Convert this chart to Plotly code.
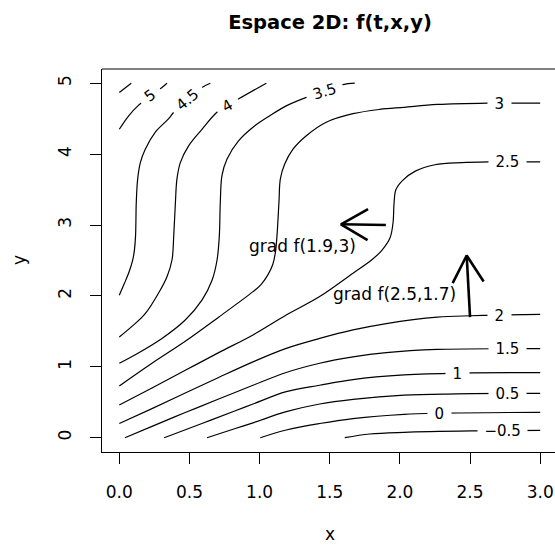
import math
import plotly.graph_objects as go

# ---------------- data ----------------
# contour levels and the (x, y) points of each contour line
lev_m05_x = [1.607, 1.785, 2.03, 2.54, 2.73, 3.0]
lev_m05_y = [0.0, 0.052, 0.076, 0.096, 0.100, 0.104]
lev_0_x = [1.005, 1.19, 1.428, 1.666, 2.03, 2.284, 3.0]
lev_0_y = [0.0, 0.109, 0.20, 0.27, 0.33, 0.346, 0.358]
lev_05_x = [0.625, 0.827, 0.953, 1.19, 1.428, 1.666, 2.03, 2.4, 2.766, 3.0]
lev_05_y = [0.0, 0.13, 0.21, 0.367, 0.475, 0.54, 0.60, 0.618, 0.626, 0.626]
lev_1_x = [0.32, 0.589, 0.827, 0.953, 1.19, 1.428, 1.666, 2.03, 2.409, 3.0]
lev_1_y = [0.0, 0.20, 0.38, 0.475, 0.65, 0.74, 0.82, 0.885, 0.912, 0.917]
lev_15_x = [0.04, 0.233, 0.47, 0.708, 0.953, 1.19, 1.428, 1.666, 1.903, 2.267, 2.766, 3.0]
lev_15_y = [0.0, 0.16, 0.355, 0.545, 0.74, 0.92, 1.05, 1.14, 1.20, 1.245, 1.255, 1.255]
lev_2_x = [0.0, 0.233, 0.47, 0.708, 0.953, 1.19, 1.428, 1.666, 1.903, 2.267, 2.505, 2.711, 3.0]
lev_2_y = [0.20, 0.41, 0.63, 0.85, 1.07, 1.26, 1.40, 1.52, 1.61, 1.70, 1.72, 1.73, 1.74]
lev_25_x = [0.0, 0.233, 0.47, 0.708, 0.953, 1.19, 1.428, 1.666, 1.80, 1.87, 1.93, 1.952,
            1.958, 1.972, 2.02, 2.11, 2.25, 2.44, 2.63, 2.766, 3.0]
lev_25_y = [0.46, 0.70, 0.95, 1.20, 1.45, 1.73, 1.99, 2.32, 2.51, 2.64, 2.82, 3.05,
            3.30, 3.50, 3.63, 3.76, 3.85, 3.88, 3.89, 3.89, 3.89]
lev_3_x = [0.0, 0.233, 0.47, 0.708, 0.953, 1.01, 1.06, 1.095, 1.113, 1.124, 1.138, 1.148,
           1.179, 1.238, 1.333, 1.475, 1.666, 1.856, 2.03, 2.267, 2.623, 2.711, 3.0]
lev_3_y = [0.73, 1.05, 1.36, 1.70, 2.06, 2.16, 2.30, 2.45, 2.62, 2.85, 3.32, 3.65,
           3.86, 4.07, 4.26, 4.45, 4.57, 4.63, 4.66, 4.70, 4.72, 4.72, 4.72]
lev_35_x = [0.0, 0.114, 0.304, 0.47, 0.589, 0.661, 0.697, 0.713, 0.72, 0.732, 0.768, 0.851,
            0.953, 1.072, 1.19, 1.333, 1.465, 1.594, 1.678]
lev_35_y = [1.05, 1.17, 1.40, 1.66, 1.94, 2.22, 2.51, 2.85, 3.32, 3.70, 3.93, 4.19,
            4.38, 4.54, 4.68, 4.80, 4.89, 4.98, 5.0]
lev_4_x = [0.0, 0.09, 0.185, 0.28, 0.34, 0.376, 0.388, 0.40, 0.411, 0.435, 0.495, 0.589,
           0.696, 0.774, 0.851, 1.048]
lev_4_y = [1.42, 1.57, 1.75, 2.04, 2.27, 2.51, 2.85, 3.32, 3.65, 3.88, 4.12, 4.35,
           4.59, 4.69, 4.78, 5.0]
lev_45_x = [0.0, 0.035, 0.07, 0.095, 0.108, 0.116, 0.121, 0.131, 0.15, 0.185, 0.257, 0.352,
            0.388, 0.488, 0.589, 0.649]
lev_45_y = [2.01, 2.17, 2.34, 2.50, 2.65, 2.85, 3.32, 3.65, 3.88, 4.07, 4.31, 4.50,
            4.59, 4.77, 4.94, 5.0]
lev_5_x = [0.0, 0.067, 0.138, 0.221, 0.304, 0.34]
lev_5_y = [4.35, 4.54, 4.69, 4.82, 4.94, 5.0]
lev_55_x = [0.0, 0.085]
lev_55_y = [4.87, 5.0]

# contour labels: text, position on the line, orientation
label_text = ["5", "4.5", "4", "3.5", "3", "2.5", "2", "1.5", "1", "0.5", "0", "\u22120.5"]
label_x = [0.221, 0.488, 0.774, 1.465, 2.711, 2.766, 2.711, 2.766, 2.409, 2.766, 2.284, 2.73]
label_y = [4.82, 4.77, 4.69, 4.89, 4.72, 3.89, 1.73, 1.255, 0.912, 0.626, 0.346, 0.10]
label_angle = [-37, -40, -30, -17, 0, 0, 0, 0, 0, 0, 0, 0]

# gradient arrows
grad_x0 = [1.9, 2.5]
grad_y0 = [3.0, 1.7]
grad_dx = [-0.32, -0.024]
grad_dy = [0.01, 0.87]
grad_text = ["grad f(1.9,3)", "grad f(2.5,1.7)"]
grad_text_x = [1.306, 1.963]
grad_text_y = [2.70, 2.024]

x_ticks = [0.0, 0.5, 1.0, 1.5, 2.0, 2.5, 3.0]
y_ticks = [0, 1, 2, 3, 4, 5]

# ---------------- geometry ----------------
W, H = 555, 546
ML, MR, MT, MB = 102, 0, 69, 94
PW, PH = W - ML - MR, H - MT - MB
X_RANGE = [-0.1233, 3.1055]
Y_RANGE = [-0.2017, 5.2003]
SX = PW / (X_RANGE[1] - X_RANGE[0])
SY = PH / (Y_RANGE[1] - Y_RANGE[0])

FONT = "DejaVu Sans"

contours = [
    (lev_m05_x, lev_m05_y), (lev_0_x, lev_0_y), (lev_05_x, lev_05_y), (lev_1_x, lev_1_y),
    (lev_15_x, lev_15_y), (lev_2_x, lev_2_y), (lev_25_x, lev_25_y), (lev_3_x, lev_3_y),
    (lev_35_x, lev_35_y), (lev_4_x, lev_4_y), (lev_45_x, lev_45_y), (lev_5_x, lev_5_y),
    (lev_55_x, lev_55_y),
]

fig = go.Figure()
for cx, cy in contours:
    fig.add_trace(go.Scatter(x=cx, y=cy, mode="lines",
                             line=dict(color="black", width=1.2, shape="spline", smoothing=1.0),
                             hoverinfo="skip"))

# arrows (shaft + open head, R style: 30 degrees)
HEAD_PX = 31
for x0, y0, dx, dy in zip(grad_x0, grad_y0, grad_dx, grad_dy):
    x1, y1 = x0 + dx, y0 + dy
    vx, vy = dx * SX, -dy * SY
    n = math.hypot(vx, vy)
    bx, by = -vx / n, -vy / n
    heads = []
    for a in (math.radians(30), math.radians(-30)):
        rx = bx * math.cos(a) - by * math.sin(a)
        ry = bx * math.sin(a) + by * math.cos(a)
        heads.append((x1 + rx * HEAD_PX / SX, y1 - ry * HEAD_PX / SY))
    fig.add_trace(go.Scatter(x=[x0, x1], y=[y0, y1], mode="lines",
                             line=dict(color="black", width=2.6), hoverinfo="skip"))
    fig.add_trace(go.Scatter(x=[heads[0][0], x1, heads[1][0]], y=[heads[0][1], y1, heads[1][1]],
                             mode="lines", line=dict(color="black", width=2.6), hoverinfo="skip"))

annotations = []
CW = {"0": .636, "1": .636, "2": .636, "3": .636, "4": .636, "5": .636, ".": .318, "\u2212": .838}
LAB_SIZE = 15
for t, lx, ly, ang in zip(label_text, label_x, label_y, label_angle):
    adv = sum(CW.get(c, .636) for c in t) * LAB_SIZE
    annotations.append(dict(x=lx, y=ly, xref="x", yref="y", text=t, showarrow=False,
                            textangle=ang, xanchor="center", yanchor="middle",
                            font=dict(family=FONT, size=LAB_SIZE, color="black"),
                            bgcolor="white", borderpad=0, width=adv + 13, height=15))

for t, tx, ty in zip(grad_text, grad_text_x, grad_text_y):
    annotations.append(dict(x=tx, y=ty, xref="x", yref="y", text=t, showarrow=False,
                            xanchor="center", yanchor="middle",
                            font=dict(family=FONT, size=17, color="black")))

def paper_x(px):
    return (px - ML) / PW

def paper_y(py):
    return (H - MB - py) / PH

annotations.append(dict(x=paper_x(330), y=paper_y(546), xref="paper", yref="paper", text="x",
                        showarrow=False, xanchor="center", yanchor="bottom",
                        font=dict(family=FONT, size=17, color="black")))
annotations.append(dict(x=paper_x(19), y=paper_y(260), xref="paper", yref="paper", text="y",
                        showarrow=False, xanchor="center", yanchor="middle", textangle=-90,
                        font=dict(family=FONT, size=17, color="black")))

fig.update_layout(
    width=W, height=H,
    margin=dict(l=ML, r=MR, t=MT, b=MB, pad=0),
    plot_bgcolor="white", paper_bgcolor="white",
    showlegend=False,
    font=dict(family=FONT, color="black"),
    title=dict(text="<b>Espace 2D: f(t,x,y)</b>", x=330 / W, xanchor="center", xref="container",
               y=1 - 22 / H, yanchor="middle", yref="container",
               font=dict(family=FONT, size=19.5, color="black")),
    xaxis=dict(range=X_RANGE, showgrid=False, zeroline=False, showline=True, linecolor="black",
               linewidth=1, ticks="outside", ticklen=11, tickwidth=1, tickcolor="black",
               tickvals=x_ticks, ticktext=[f"{v:.1f}" for v in x_ticks],
               tickfont=dict(family=FONT, size=17, color="black"), ticklabelstandoff=14,
               fixedrange=True),
    yaxis=dict(range=Y_RANGE, showgrid=False, zeroline=False, showline=True, linecolor="black",
               linewidth=1, ticks="outside", ticklen=11, tickwidth=1, tickcolor="black",
               tickvals=y_ticks, ticktext=[str(v) for v in y_ticks], tickangle=-90,
               tickfont=dict(family=FONT, size=17, color="black"), ticklabelstandoff=12,
               fixedrange=True),
    annotations=annotations,
    shapes=[dict(type="line", xref="paper", yref="paper", x0=0, x1=1, y0=1, y1=1,
                 line=dict(color="black", width=1))],
)

fig.write_html("out.html", config={"staticPlot": True},
               post_script="document.body.style.margin='0px';document.body.style.overflow='hidden';")
